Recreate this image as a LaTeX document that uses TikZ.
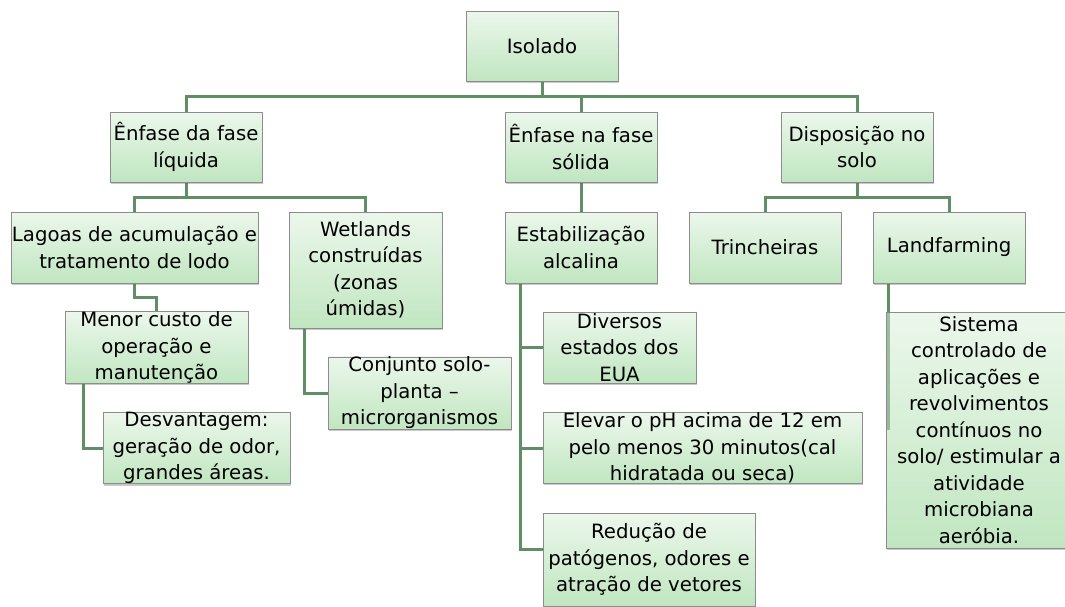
\documentclass[tikz,border=0pt]{standalone}
\usepackage{fontspec}
\setmainfont{DejaVu Sans}
\usetikzlibrary{shadows,calc}
\definecolor{boxtop}{RGB}{236,247,236}
\definecolor{boxbot}{RGB}{192,230,192}
\definecolor{boxline}{RGB}{140,140,140}
\definecolor{conn}{RGB}{96,143,102}
\tikzset{
  box/.style={draw=boxline, line width=0.8pt, top color=boxtop, bottom color=boxbot,
    inner sep=0pt, align=center, font=\fontsize{19.7}{26.5}\selectfont,
    drop shadow={shadow xshift=1pt, shadow yshift=-2pt, opacity=0.35, fill=black!60}},
  link/.style={draw=conn, line width=3pt},
}
\newcommand{\bx}[6]{% name, x1,y1,x2,y2, text
  \node[box, minimum width={#4-#2}, minimum height={#5-#3}] (#1) at ({(#2+#4)/2},{(#3+#5)/2}) {#6};}
\begin{document}
\begin{tikzpicture}[x=1pt,y=-1pt]
\useasboundingbox[fill=white] (0,0) rectangle (1065,606);
% connectors (behind)
\coordinate (j0) at (542,96);
\draw[link] (542,81) -- (j0);
\draw[link] (186,112) |- (857,96) -- (857,112);
\draw[link] (581,96) -- (581,112);
\draw[link] (186,182) -- (186,197);
\draw[link] (134.5,212) |- (365.5,197) -- (365.5,212);
\draw[link] (581,182) -- (581,212);
\draw[link] (857,182) -- (857,197);
\draw[link] (765,212) |- (949,197) -- (949,212);
\draw[link] (134.5,283) |- (156.5,297) -- (156.5,312);
\draw[link] (83,383) |- (103,448);
\draw[link] (304,328) |- (328,393);
\draw[link] (520,283) |- (543,549);
\draw[link] (520,347.5) -- (543,347.5);
\draw[link] (520,448) -- (543,448);
\draw[link] (888,283) -- (888,312);
% boxes
\bx{iso}{466}{11}{618}{81}{Isolado}
\bx{la}{110}{112}{262}{182}{Ênfase da fase\\líquida}
\bx{lb}{505}{112}{657}{182}{Ênfase na fase\\sólida}
\bx{lc}{781}{112}{933}{182}{Disposição no\\solo}
\bx{lag}{11}{212}{258}{283}{Lagoas de acumulação e\\tratamento de lodo}
\bx{wet}{289}{212}{442}{328}{Wetlands\\construídas\\(zonas\\úmidas)}
\bx{est}{505}{212}{657}{283}{Estabilização\\alcalina}
\bx{tri}{689}{212}{841}{283}{Trincheiras}
\bx{lan}{873}{212}{1025}{283}{Landfarming}
\bx{men}{65}{312}{248}{383}{Menor custo de\\operação e\\manutenção}
\bx{des}{103}{413}{290}{483}{Desvantagem:\\geração de odor,\\grandes áreas.}
\bx{con}{328}{358}{511}{428}{Conjunto solo-\\planta –\\microrganismos}
\bx{div}{543}{312}{696}{383}{Diversos\\estados dos\\EUA}
\bx{ele}{543}{413}{862}{483}{Elevar o pH acima de 12 em\\pelo menos 30 minutos(cal\\hidratada ou seca)}
\bx{red}{543}{513}{755}{606}{Redução de\\patógenos, odores e\\atração de vetores}
\bx{sis}{886}{312}{1072}{548}{Sistema\\controlado de\\aplicações e\\revolvimentos\\contínuos no\\solo/ estimular a\\atividade\\microbiana\\aeróbia.}
\draw[link, draw opacity=0.55] (888,312) -- (888,430);
\end{tikzpicture}
\end{document}
